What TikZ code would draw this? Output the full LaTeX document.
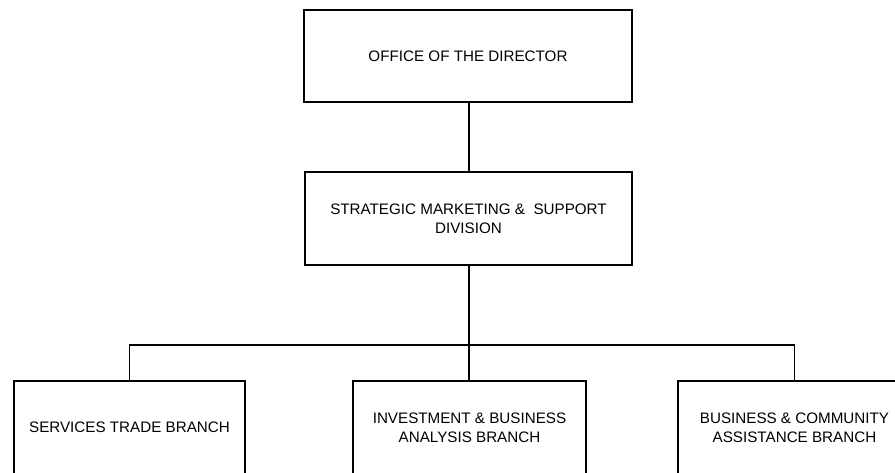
\documentclass[tikz,border=0pt]{standalone}
\usepackage{fontspec}
\setmainfont{Liberation Sans}
\begin{document}
\begin{tikzpicture}[x=1pt,y=-1pt,
  unitbox/.style={draw=black,line width=1.3pt,rectangle,inner sep=0pt,
    align=center,font=\fontsize{15.2}{19}\selectfont},
  conn/.style={draw=black,line width=1.3pt}]
\useasboundingbox (0,0) rectangle (895,472);
\clip (0,0) rectangle (895,472);
\node[unitbox,minimum width=328pt,minimum height=92pt] (dir) at (468,56) {OFFICE OF THE DIRECTOR};
\node[unitbox,minimum width=327pt,minimum height=93pt] (div) at (468.5,218.5) {STRATEGIC MARKETING \&\ \ SUPPORT\\DIVISION};
\node[unitbox,minimum width=231pt,minimum height=93pt] (svc) at (129.5,427.5) {SERVICES TRADE BRANCH};
\node[unitbox,minimum width=233pt,minimum height=93pt] (inv) at (469.5,427.5) {INVESTMENT \& BUSINESS\\ANALYSIS BRANCH};
\node[unitbox,minimum width=233pt,minimum height=93pt] (bus) at (794.5,427.5) {BUSINESS \& COMMUNITY\\ASSISTANCE BRANCH};
\coordinate (hub) at (469,345);
\draw[conn] (dir.south -| 469,0) -- (div.north -| 469,0);
\draw[conn] (div.south -| hub) -- (hub);
\draw[conn] (svc.north) |- (hub) -| (bus.north);
\draw[conn] (hub) -- (inv.north -| hub);
\end{tikzpicture}
\end{document}
